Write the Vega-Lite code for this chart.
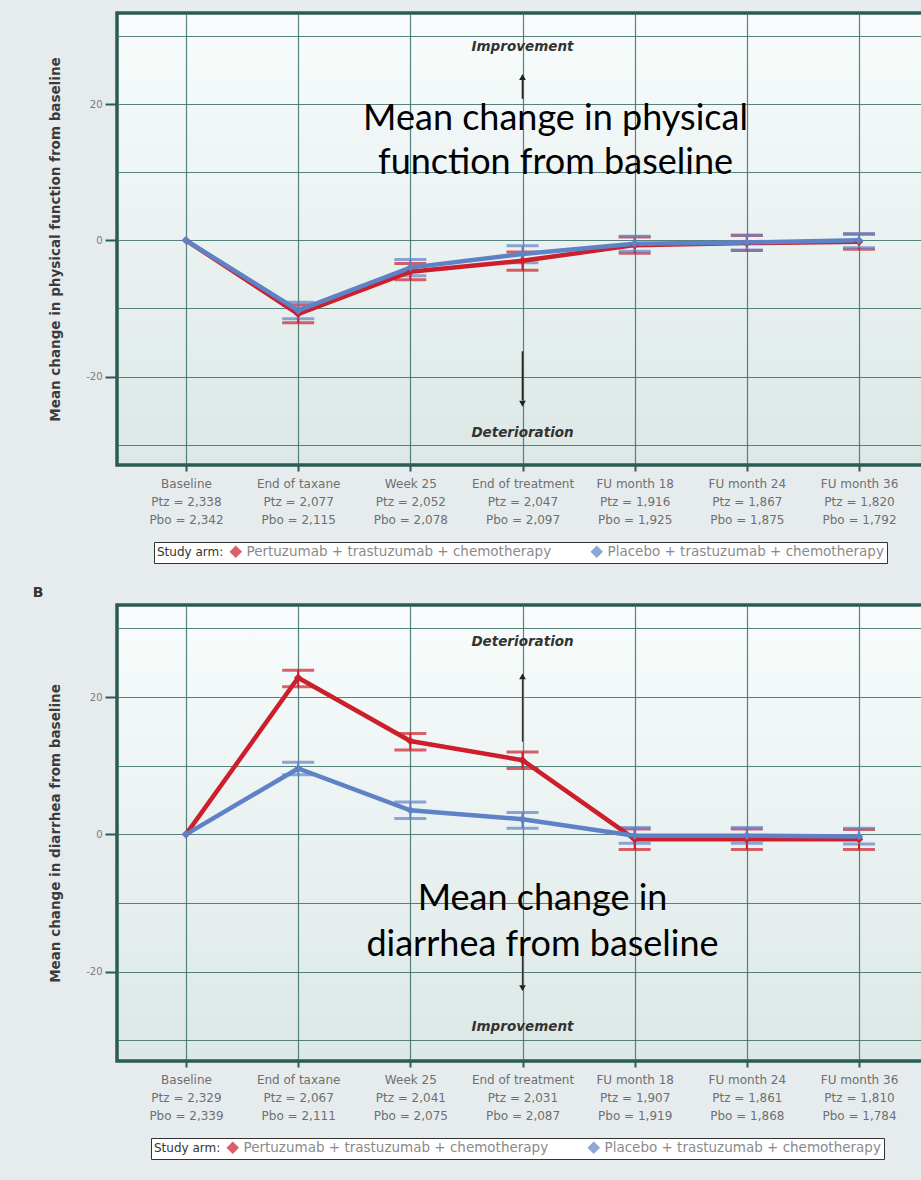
{
  "$schema": "https://vega.github.io/schema/vega-lite/v6.json",
  "background": "#e6ecee",
  "padding": {"left": 30, "top": 11, "right": 0, "bottom": 24},
  "spacing": 18,
  "resolve": {"scale": {"color": "independent", "x": "independent", "y": "independent"}},
  "config": {
    "view": {
      "stroke": "#2b5b55",
      "strokeWidth": 3.5,
      "fill": {"gradient": "linear", "x1": 0, "y1": 0, "x2": 0, "y2": 1, "stops": [{"offset": 0, "color": "#f8fcfc"}, {"offset": 1, "color": "#dce8e6"}]}
    },
    "axis": {"gridColor": "#3d6d67", "gridWidth": 1.2, "gridOpacity": 0.85, "domain": false, "tickColor": "#2b5b55", "tickWidth": 2},
    "axisX": {"labelFont": "DejaVu Sans", "labelFontSize": 12, "labelColor": "#6f6f6f", "labelLineHeight": 18, "labelAngle": 0, "labelOverlap": false, "labelPadding": 7, "tickSize": 6, "labelExpr": "split(datum.label, '|')"},
    "axisY": {"labelFont": "DejaVu Sans", "labelFontSize": 10, "labelColor": "#7a7a7a", "labelPadding": 3, "tickSize": 12, "titleFont": "DejaVu Sans", "titleFontSize": 13.5, "titleFontWeight": "bold", "titleColor": "#3a3a3a", "titlePadding": 23},
    "legend": {
      "orient": "none", "direction": "horizontal", "titleOrient": "left",
      "titleFont": "DejaVu Sans", "titleFontSize": 12, "titleFontWeight": "normal", "titleColor": "#333333",
      "labelFont": "DejaVu Sans", "labelFontSize": 13.5, "labelColor": "#8a8a8a", "labelLimit": 0,
      "symbolType": "diamond", "symbolSize": 110, "columnPadding": 36,
      "strokeColor": "#333333", "fillColor": "#ffffff", "padding": 3
    }
  },
  "datasets": {
    "pf": [
      {"tp": "Baseline|Ptz = 2,338|Pbo = 2,342", "arm": "Pertuzumab + trastuzumab + chemotherapy", "mean": 0, "lo": null, "hi": null},
      {"tp": "End of taxane|Ptz = 2,077|Pbo = 2,115", "arm": "Pertuzumab + trastuzumab + chemotherapy", "mean": -10.8, "lo": -12.1, "hi": -9.5},
      {"tp": "Week 25|Ptz = 2,052|Pbo = 2,078", "arm": "Pertuzumab + trastuzumab + chemotherapy", "mean": -4.6, "lo": -5.8, "hi": -3.4},
      {"tp": "End of treatment|Ptz = 2,047|Pbo = 2,097", "arm": "Pertuzumab + trastuzumab + chemotherapy", "mean": -3.0, "lo": -4.4, "hi": -1.7},
      {"tp": "FU month 18|Ptz = 1,916|Pbo = 1,925", "arm": "Pertuzumab + trastuzumab + chemotherapy", "mean": -0.7, "lo": -1.9, "hi": 0.5},
      {"tp": "FU month 24|Ptz = 1,867|Pbo = 1,875", "arm": "Pertuzumab + trastuzumab + chemotherapy", "mean": -0.4, "lo": -1.5, "hi": 0.7},
      {"tp": "FU month 36|Ptz = 1,820|Pbo = 1,792", "arm": "Pertuzumab + trastuzumab + chemotherapy", "mean": -0.2, "lo": -1.3, "hi": 0.9},
      {"tp": "Baseline|Ptz = 2,338|Pbo = 2,342", "arm": "Placebo + trastuzumab + chemotherapy", "mean": 0, "lo": null, "hi": null},
      {"tp": "End of taxane|Ptz = 2,077|Pbo = 2,115", "arm": "Placebo + trastuzumab + chemotherapy", "mean": -10.3, "lo": -11.5, "hi": -9.1},
      {"tp": "Week 25|Ptz = 2,052|Pbo = 2,078", "arm": "Placebo + trastuzumab + chemotherapy", "mean": -4.0, "lo": -5.2, "hi": -2.8},
      {"tp": "End of treatment|Ptz = 2,047|Pbo = 2,097", "arm": "Placebo + trastuzumab + chemotherapy", "mean": -2.0, "lo": -3.3, "hi": -0.8},
      {"tp": "FU month 18|Ptz = 1,916|Pbo = 1,925", "arm": "Placebo + trastuzumab + chemotherapy", "mean": -0.5, "lo": -1.6, "hi": 0.6},
      {"tp": "FU month 24|Ptz = 1,867|Pbo = 1,875", "arm": "Placebo + trastuzumab + chemotherapy", "mean": -0.3, "lo": -1.4, "hi": 0.8},
      {"tp": "FU month 36|Ptz = 1,820|Pbo = 1,792", "arm": "Placebo + trastuzumab + chemotherapy", "mean": 0.0, "lo": -1.1, "hi": 1.0}
    ],
    "dia": [
      {"tp": "Baseline|Ptz = 2,329|Pbo = 2,339", "arm": "Pertuzumab + trastuzumab + chemotherapy", "mean": 0, "lo": null, "hi": null},
      {"tp": "End of taxane|Ptz = 2,067|Pbo = 2,111", "arm": "Pertuzumab + trastuzumab + chemotherapy", "mean": 22.8, "lo": 21.5, "hi": 23.9},
      {"tp": "Week 25|Ptz = 2,041|Pbo = 2,075", "arm": "Pertuzumab + trastuzumab + chemotherapy", "mean": 13.6, "lo": 12.3, "hi": 14.7},
      {"tp": "End of treatment|Ptz = 2,031|Pbo = 2,087", "arm": "Pertuzumab + trastuzumab + chemotherapy", "mean": 10.8, "lo": 9.6, "hi": 12.0},
      {"tp": "FU month 18|Ptz = 1,907|Pbo = 1,919", "arm": "Pertuzumab + trastuzumab + chemotherapy", "mean": -0.7, "lo": -2.2, "hi": 0.8},
      {"tp": "FU month 24|Ptz = 1,861|Pbo = 1,868", "arm": "Pertuzumab + trastuzumab + chemotherapy", "mean": -0.7, "lo": -2.2, "hi": 0.8},
      {"tp": "FU month 36|Ptz = 1,810|Pbo = 1,784", "arm": "Pertuzumab + trastuzumab + chemotherapy", "mean": -0.7, "lo": -2.2, "hi": 0.7},
      {"tp": "Baseline|Ptz = 2,329|Pbo = 2,339", "arm": "Placebo + trastuzumab + chemotherapy", "mean": 0, "lo": null, "hi": null},
      {"tp": "End of taxane|Ptz = 2,067|Pbo = 2,111", "arm": "Placebo + trastuzumab + chemotherapy", "mean": 9.6, "lo": 8.7, "hi": 10.5},
      {"tp": "Week 25|Ptz = 2,041|Pbo = 2,075", "arm": "Placebo + trastuzumab + chemotherapy", "mean": 3.5, "lo": 2.3, "hi": 4.7},
      {"tp": "End of treatment|Ptz = 2,031|Pbo = 2,087", "arm": "Placebo + trastuzumab + chemotherapy", "mean": 2.2, "lo": 0.9, "hi": 3.2},
      {"tp": "FU month 18|Ptz = 1,907|Pbo = 1,919", "arm": "Placebo + trastuzumab + chemotherapy", "mean": -0.2, "lo": -1.3, "hi": 1.0},
      {"tp": "FU month 24|Ptz = 1,861|Pbo = 1,868", "arm": "Placebo + trastuzumab + chemotherapy", "mean": -0.2, "lo": -1.3, "hi": 1.0},
      {"tp": "FU month 36|Ptz = 1,810|Pbo = 1,784", "arm": "Placebo + trastuzumab + chemotherapy", "mean": -0.3, "lo": -1.4, "hi": 0.9}
    ]
  },
  "vconcat": [
    {
      "width": 811,
      "height": 452,
      "encoding": {
        "x": {"field": "tp", "type": "nominal", "title": null,
          "scale": {"type": "point", "padding": 0.615, "domain": ["Baseline|Ptz = 2,338|Pbo = 2,342", "End of taxane|Ptz = 2,077|Pbo = 2,115", "Week 25|Ptz = 2,052|Pbo = 2,078", "End of treatment|Ptz = 2,047|Pbo = 2,097", "FU month 18|Ptz = 1,916|Pbo = 1,925", "FU month 24|Ptz = 1,867|Pbo = 1,875", "FU month 36|Ptz = 1,820|Pbo = 1,792"]},
          "axis": {"grid": true}}
      },
      "layer": [
        {
          "data": {"name": "pf"},
          "transform": [{"filter": "datum.lo != null"}],
          "mark": {"type": "errorbar", "ticks": {"size": 32, "thickness": 3}, "rule": {"strokeWidth": 2}},
          "encoding": {
            "y": {"field": "lo", "type": "quantitative", "title": "Mean change in physical function from baseline",
              "scale": {"domain": [-33, 33.4], "nice": false},
              "axis": {"values": [-30, -20, -10, 0, 10, 20, 30], "grid": true, "labelExpr": "datum.value % 20 === 0 ? toString(datum.value) : ''", "tickOpacity": {"condition": {"test": "datum.value % 20 === 0", "value": 1}, "value": 0}}},
            "y2": {"field": "hi"},
            "color": {"field": "arm", "type": "nominal",
              "scale": {"domain": ["Pertuzumab + trastuzumab + chemotherapy", "Placebo + trastuzumab + chemotherapy"], "range": ["#cc1f2b", "#5f82c6"]},
              "legend": {"title": "Study arm:", "legendX": 37, "legendY": 529}}
          }
        },
        {
          "data": {"name": "pf"},
          "mark": {"type": "line", "strokeWidth": 4.5},
          "encoding": {
            "y": {"field": "mean", "type": "quantitative", "title": "Mean change in physical function from baseline", "scale": {"domain": [-33, 33.4], "nice": false}},
            "color": {"field": "arm", "type": "nominal"}
          }
        },
        {
          "data": {"name": "pf"},
          "mark": {"type": "point", "shape": "diamond", "filled": true, "size": 70, "opacity": 1},
          "encoding": {
            "y": {"field": "mean", "type": "quantitative", "title": "Mean change in physical function from baseline", "scale": {"domain": [-33, 33.4], "nice": false}},
            "color": {"field": "arm", "type": "nominal"}
          }
        },
        {
          "data": {"values": [
            {"tp": "End of treatment|Ptz = 2,047|Pbo = 2,097", "y": 20.8, "y2": 24.0},
            {"tp": "End of treatment|Ptz = 2,047|Pbo = 2,097", "y": -16.3, "y2": -23.5}
          ]},
          "mark": {"type": "rule", "color": "#222222", "strokeWidth": 1.6},
          "encoding": {
            "y": {"field": "y", "type": "quantitative", "title": "Mean change in physical function from baseline", "scale": {"domain": [-33, 33.4], "nice": false}},
            "y2": {"field": "y2"}
          }
        },
        {
          "data": {"values": [
            {"tp": "End of treatment|Ptz = 2,047|Pbo = 2,097", "y": 24.0, "shape": "triangle-up"},
            {"tp": "End of treatment|Ptz = 2,047|Pbo = 2,097", "y": -24.0, "shape": "triangle-down"}
          ]},
          "mark": {"type": "point", "filled": true, "size": 45, "color": "#222222", "opacity": 1},
          "encoding": {
            "y": {"field": "y", "type": "quantitative", "title": "Mean change in physical function from baseline", "scale": {"domain": [-33, 33.4], "nice": false}},
            "shape": {"field": "shape", "type": "nominal", "scale": null}
          }
        },
        {
          "data": {"values": [
            {"tp": "End of treatment|Ptz = 2,047|Pbo = 2,097", "y": 28.4, "txt": "Improvement"},
            {"tp": "End of treatment|Ptz = 2,047|Pbo = 2,097", "y": -28.3, "txt": "Deterioration"}
          ]},
          "mark": {"type": "text", "font": "DejaVu Sans", "fontSize": 13.5, "fontWeight": "bold", "fontStyle": "italic", "color": "#333333", "baseline": "middle", "align": "center"},
          "encoding": {
            "y": {"field": "y", "type": "quantitative", "title": "Mean change in physical function from baseline", "scale": {"domain": [-33, 33.4], "nice": false}},
            "text": {"field": "txt", "type": "nominal"}
          }
        },
        {
          "data": {"values": [
            {"tp": "End of treatment|Ptz = 2,047|Pbo = 2,097", "y": 17.8, "txt": "Mean change in physical\nfunction from baseline"}
          ]},
          "mark": {"type": "text", "font": "Lato", "fontSize": 36, "lineHeight": 44, "lineBreak": "\n", "color": "#000000", "baseline": "middle", "align": "center", "dx": 33},
          "encoding": {
            "y": {"field": "y", "type": "quantitative", "title": "Mean change in physical function from baseline", "scale": {"domain": [-33, 33.4], "nice": false}},
            "text": {"field": "txt", "type": "nominal"}
          }
        }
      ]
    },
    {
      "width": 811,
      "height": 456,
      "title": {"text": "B", "anchor": "start", "frame": "bounds", "fontSize": 14, "fontWeight": "bold", "color": "#333333", "font": "DejaVu Sans", "dx": -16, "offset": 5},
      "encoding": {
        "x": {"field": "tp", "type": "nominal", "title": null,
          "scale": {"type": "point", "padding": 0.615, "domain": ["Baseline|Ptz = 2,329|Pbo = 2,339", "End of taxane|Ptz = 2,067|Pbo = 2,111", "Week 25|Ptz = 2,041|Pbo = 2,075", "End of treatment|Ptz = 2,031|Pbo = 2,087", "FU month 18|Ptz = 1,907|Pbo = 1,919", "FU month 24|Ptz = 1,861|Pbo = 1,868", "FU month 36|Ptz = 1,810|Pbo = 1,784"]},
          "axis": {"grid": true}}
      },
      "layer": [
        {
          "data": {"name": "dia"},
          "transform": [{"filter": "datum.lo != null"}],
          "mark": {"type": "errorbar", "ticks": {"size": 32, "thickness": 3}, "rule": {"strokeWidth": 2}},
          "encoding": {
            "y": {"field": "lo", "type": "quantitative", "title": "Mean change in diarrhea from baseline",
              "scale": {"domain": [-33, 33.4], "nice": false},
              "axis": {"values": [-30, -20, -10, 0, 10, 20, 30], "grid": true, "labelExpr": "datum.value % 20 === 0 ? toString(datum.value) : ''", "tickOpacity": {"condition": {"test": "datum.value % 20 === 0", "value": 1}, "value": 0}}},
            "y2": {"field": "hi"},
            "color": {"field": "arm", "type": "nominal",
              "scale": {"domain": ["Pertuzumab + trastuzumab + chemotherapy", "Placebo + trastuzumab + chemotherapy"], "range": ["#cc1f2b", "#5f82c6"]},
              "legend": {"title": "Study arm:", "legendX": 34, "legendY": 533}}
          }
        },
        {
          "data": {"name": "dia"},
          "mark": {"type": "line", "strokeWidth": 4.5},
          "encoding": {
            "y": {"field": "mean", "type": "quantitative", "title": "Mean change in diarrhea from baseline", "scale": {"domain": [-33, 33.4], "nice": false}},
            "color": {"field": "arm", "type": "nominal"}
          }
        },
        {
          "data": {"name": "dia"},
          "mark": {"type": "point", "shape": "diamond", "filled": true, "size": 70, "opacity": 1},
          "encoding": {
            "y": {"field": "mean", "type": "quantitative", "title": "Mean change in diarrhea from baseline", "scale": {"domain": [-33, 33.4], "nice": false}},
            "color": {"field": "arm", "type": "nominal"}
          }
        },
        {
          "data": {"values": [
            {"tp": "End of treatment|Ptz = 2,031|Pbo = 2,087", "y": 13.5, "y2": 22.6},
            {"tp": "End of treatment|Ptz = 2,031|Pbo = 2,087", "y": -17.5, "y2": -22.0}
          ]},
          "mark": {"type": "rule", "color": "#333333", "strokeWidth": 1.3},
          "encoding": {
            "y": {"field": "y", "type": "quantitative", "title": "Mean change in diarrhea from baseline", "scale": {"domain": [-33, 33.4], "nice": false}},
            "y2": {"field": "y2"}
          }
        },
        {
          "data": {"values": [
            {"tp": "End of treatment|Ptz = 2,031|Pbo = 2,087", "y": 23.0, "shape": "triangle-up"},
            {"tp": "End of treatment|Ptz = 2,031|Pbo = 2,087", "y": -22.4, "shape": "triangle-down"}
          ]},
          "mark": {"type": "point", "filled": true, "size": 45, "color": "#222222", "opacity": 1},
          "encoding": {
            "y": {"field": "y", "type": "quantitative", "title": "Mean change in diarrhea from baseline", "scale": {"domain": [-33, 33.4], "nice": false}},
            "shape": {"field": "shape", "type": "nominal", "scale": null}
          }
        },
        {
          "data": {"values": [
            {"tp": "End of treatment|Ptz = 2,031|Pbo = 2,087", "y": 28.0, "txt": "Deterioration"},
            {"tp": "End of treatment|Ptz = 2,031|Pbo = 2,087", "y": -28.0, "txt": "Improvement"}
          ]},
          "mark": {"type": "text", "font": "DejaVu Sans", "fontSize": 13.5, "fontWeight": "bold", "fontStyle": "italic", "color": "#333333", "baseline": "middle", "align": "center"},
          "encoding": {
            "y": {"field": "y", "type": "quantitative", "title": "Mean change in diarrhea from baseline", "scale": {"domain": [-33, 33.4], "nice": false}},
            "text": {"field": "txt", "type": "nominal"}
          }
        },
        {
          "data": {"values": [
            {"tp": "End of treatment|Ptz = 2,031|Pbo = 2,087", "y": -9.4, "txt": "Mean change in\ndiarrhea from baseline"}
          ]},
          "mark": {"type": "text", "font": "Lato", "fontSize": 36, "lineHeight": 46, "lineBreak": "\n", "color": "#000000", "baseline": "middle", "align": "center", "dx": 20},
          "encoding": {
            "y": {"field": "y", "type": "quantitative", "title": "Mean change in diarrhea from baseline", "scale": {"domain": [-33, 33.4], "nice": false}},
            "text": {"field": "txt", "type": "nominal"}
          }
        }
      ]
    }
  ]
}
